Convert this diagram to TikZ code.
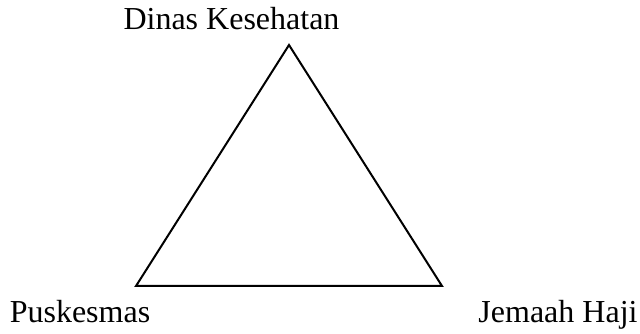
\documentclass[tikz,border=0pt]{standalone}
\usepackage{fontspec}
\setmainfont{Liberation Serif}
\begin{document}
\begin{tikzpicture}[x=1pt,y=1pt,
  lbl/.style={font=\fontsize{32}{36}\selectfont, inner sep=0pt, anchor=base},
  edge/.style={line width=2pt, line join=miter}]
\useasboundingbox (0,0) rectangle (640,334);
\coordinate (A) at (289,289);
\coordinate (B) at (136,48);
\coordinate (C) at (442,48);
\draw[edge] (A) -- (B) -- (C) -- cycle;
\node[lbl] (dk) at (231.5,304) {Dinas Kesehatan};
\node[lbl] (pk) at (80,11) {Puskesmas};
\node[lbl] (jh) at (558,11) {Jemaah Haji};
\end{tikzpicture}
\end{document}
